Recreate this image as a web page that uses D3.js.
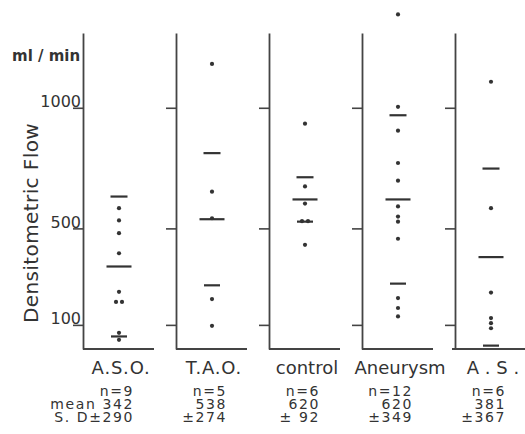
<!DOCTYPE html>
<html>
<head>
<meta charset="utf-8">
<script src="https://cdn.jsdelivr.net/npm/d3@7"></script>
<style>
  body { margin: 0; background: #fff; }
  text { font-family: "DejaVu Sans", sans-serif; fill: #333; white-space: pre; }
</style>
</head>
<body>
<div id="chart"></div>
<script>
// groups and the values (ml/min)
var groups = ["A.S.O.", "T.A.O.", "control", "Aneurysm", "A . S ."];
var asoValues = [584, 533, 480, 397, 237, 195, 195, 67, 38];
var taoValues = [1182, 652, 542, 207, 96];
var controlValues = [934, 674, 603, 530, 530, 432];
var aneurysmValues = [1387, 1004, 905, 771, 698, 591, 549, 528, 457, 211, 170, 135];
var asValues = [1108, 584, 234, 128, 107, 86];
var nCounts = [9, 5, 6, 12, 6];
var means = [342, 538, 620, 620, 381];
var sds = [290, 274, 92, 349, 367];
var yTicks = [100, 500, 1000];

var values = [asoValues, taoValues, controlValues, aneurysmValues, asValues];

var width = 525, height = 434;

var svg = d3.select("#chart").append("svg")
    .attr("width", width)
    .attr("height", height);

// one panel per group, each panel starts with its own axis line
var x = d3.scaleBand().domain(groups).range([83, 548]);
var y = d3.scaleLinear().domain([0, 1310]).range([349, 33]);

var dotOffset = 36;

groups.forEach(function(g, i) {
  var x0 = x(g);
  var panel = svg.append("g").attr("transform", "translate(" + x0 + ",0)");

  // the vertical axis
  var axis = d3.axisLeft(y)
      .tickValues(yTicks)
      .tickSize(10)
      .tickSizeOuter(0)
      .tickPadding(3)
      .tickFormat(i > 0 ? "" : d3.format("d"));

  var ax = panel.append("g").call(axis);
  ax.select(".domain").attr("stroke", "#444").attr("stroke-width", 1.8);
  ax.selectAll(".tick line").attr("stroke", "#444").attr("stroke-width", 1.6);
  ax.selectAll(".tick text")
      .attr("x", -2)
      .attr("y", -1)
      .attr("dy", 0)
      .style("font-size", "16px")
      .style("font-family", "DejaVu Sans")
      .attr("fill", "#333");

  // the baseline
  panel.append("line")
      .attr("x1", i == 4 ? -3 : 0).attr("x2", 71)
      .attr("y1", y(0)).attr("y2", y(0))
      .attr("stroke", "#444").attr("stroke-width", 1.8);

  // points, equal values sit side by side
  var seen = {};
  var pts = values[i].map(function(v) {
    seen[v] = (seen[v] || 0) + 1;
    return { v: v, k: seen[v] };
  });
  pts.forEach(function(p) {
    var dup = values[i].filter(function(v) { return v == p.v; }).length;
    p.dx = dup > 1 ? (p.k == 1 ? -3 : 3) : 0;
  });

  panel.selectAll("circle")
      .data(pts)
    .enter().append("circle")
      .attr("cx", function(d) { return dotOffset + d.dx; })
      .attr("cy", function(d) { return y(d.v); })
      .attr("r", 2.1)
      .attr("fill", "#333");

  // mean and mean +- SD lines
  var marks = [
    { v: means[i], w: 25 },
    { v: means[i] + sds[i], w: 17 },
    { v: Math.max(0, means[i] - sds[i]), w: 16 }
  ];
  panel.selectAll(".mark")
      .data(marks)
    .enter().append("line")
      .attr("class", "mark")
      .attr("x1", function(d) { return dotOffset - d.w / 2; })
      .attr("x2", function(d) { return dotOffset + d.w / 2; })
      .attr("y1", function(d) { return y(d.v); })
      .attr("y2", function(d) { return y(d.v); })
      .attr("stroke", "#333")
      .attr("stroke-width", 2.2);

  // group name
  panel.append("text")
      .attr("x", dotOffset + 2)
      .attr("y", 374)
      .attr("text-anchor", "middle")
      .style("font-size", "18px")
      .style("letter-spacing", i < 2 ? "0.8px" : "0px")
      .text(g);

  // n, mean, SD under the name
  var lines = [
    "n=" + nCounts[i],
    (i == 0 ? "mean " : "") + means[i],
    (i == 0 ? "S. D" : "") + "\u00b1" + String(sds[i]).padStart(3, " ")
  ];
  panel.selectAll(".stat")
      .data(lines)
    .enter().append("text")
      .attr("class", "stat")
      .attr("x", dotOffset + 15)
      .attr("y", function(d, j) { return 396 + j * 12.8; })
      .attr("text-anchor", "end")
      .style("font-size", "14px")
      .style("letter-spacing", "1.6px")
      .text(function(d) { return d; });
});

// unit and axis title
svg.append("text")
    .attr("x", 12)
    .attr("y", 61)
    .style("font-size", "15px")
    .style("font-weight", "bold")
    .text("ml / min");

svg.append("text")
    .attr("transform", "translate(38,223) rotate(-90)")
    .attr("text-anchor", "middle")
    .style("font-size", "20px")
    .style("letter-spacing", "0.4px")
    .text("Densitometric Flow");
</script>
</body>
</html>
